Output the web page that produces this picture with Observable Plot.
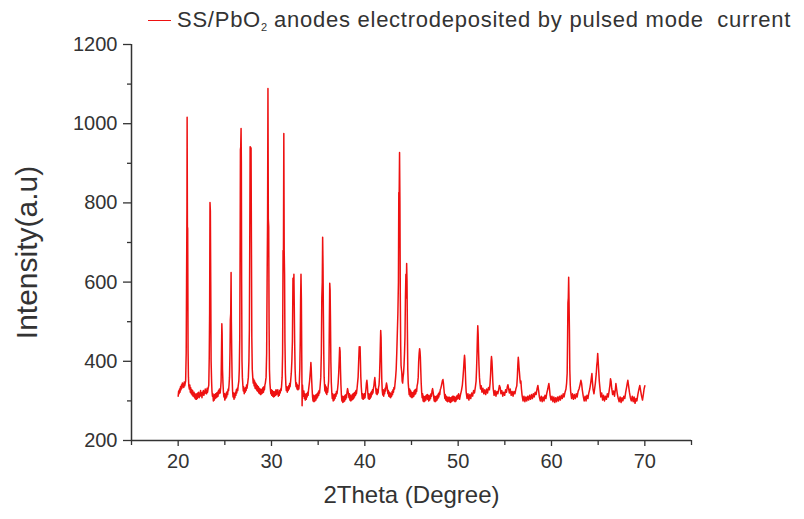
<!DOCTYPE html>
<html>
<head>
<meta charset="utf-8">
<script src="https://cdn.jsdelivr.net/npm/d3@7"></script>
<script src="https://cdn.jsdelivr.net/npm/@observablehq/plot@0.6"></script>
<style>
  html, body { margin: 0; padding: 0; background: #fff; }
  #wrap { position: relative; width: 804px; height: 519px; font-family: "Liberation Sans", Arial, sans-serif; }
  #legend { position: absolute; left: 148px; top: 5px; height: 30px; display: flex; align-items: center; color: #333; font-size: 22px; white-space: pre; }
  #legend .sw { display: inline-block; width: 23px; height: 0; border-top: 1.5px solid #ee1111; margin-right: 6px; }
  #legend .txt { letter-spacing: 0.75px; }
  #legend sub { font-size: 11px; vertical-align: -4px; letter-spacing: 0; }
</style>
</head>
<body>
<div id="wrap">
  <div id="chart"></div>
  <div id="legend"><span class="sw"></span><span class="txt">SS/PbO<sub>2</sub> anodes electrodeposited by pulsed mode  current</span></div>
</div>
<script>
// ---- Data: [2Theta (deg), Intensity (a.u.)] ----
const scan20to30 = [
  [20.00,312],[20.05,325],[20.10,318],[20.15,330],[20.20,322],[20.25,336],[20.30,328],[20.35,340],[20.40,332],[20.45,345],
  [20.50,336],[20.55,342],[20.60,334],[20.65,348],[20.70,338],[20.75,344],[20.80,350],
  [20.86,420],[20.90,600],[20.94,780],[20.96,1016],[20.99,740],[21.02,735],[21.06,430],[21.10,360],[21.14,338],
  [21.20,330],[21.25,340],[21.30,322],[21.35,333],[21.40,318],[21.45,328],[21.50,315],[21.55,326],[21.60,312],[21.70,322],
  [21.75,308],[21.80,318],[21.85,305],[21.90,316],[21.95,304],[22.00,318],[22.05,306],[22.10,320],[22.15,310],[22.20,322],
  [22.25,308],[22.30,318],[22.35,312],[22.40,326],[22.45,314],[22.50,320],[22.55,308],[22.60,322],[22.65,316],[22.70,326],
  [22.75,314],[22.80,324],[22.85,318],[22.90,330],[22.95,320],[23.00,326],[23.05,318],[23.10,332],[23.15,322],[23.20,330],
  [23.28,340],[23.33,410],[23.37,520],[23.41,801],[23.45,780],[23.49,600],[23.53,400],[23.58,350],
  [23.62,325],[23.67,312],[23.72,318],[23.77,300],[23.82,314],[23.87,302],[23.92,316],[23.97,306],[24.02,318],[24.07,308],
  [24.12,320],[24.17,310],[24.22,322],[24.27,312],[24.32,326],[24.37,318],[24.42,330],[24.50,320],[24.55,332],
  [24.60,350],[24.64,420],[24.68,495],[24.71,470],[24.75,380],[24.80,345],
  [24.85,322],[24.90,310],[24.95,318],[25.00,302],[25.05,316],[25.10,306],[25.15,320],[25.20,310],[25.25,324],[25.30,316],
  [25.35,330],[25.40,326],[25.45,340],
  [25.50,360],[25.55,420],[25.59,505],[25.63,520],[25.67,624],[25.70,500],[25.74,420],[25.78,360],
  [25.83,325],[25.88,310],[25.93,320],[25.98,304],[26.03,318],[26.08,308],[26.13,322],[26.18,314],[26.23,328],[26.28,320],
  [26.33,332],[26.38,326],[26.43,338],[26.50,350],
  [26.55,380],[26.60,460],[26.64,700],[26.67,935],[26.70,940],[26.74,988],[26.77,900],[26.80,600],[26.84,400],[26.88,360],
  [26.93,340],[26.98,325],[27.03,335],[27.08,318],[27.13,330],[27.18,322],[27.23,334],[27.28,326],[27.33,340],[27.38,332],
  [27.45,345],[27.52,360],
  [27.58,400],[27.63,480],[27.67,700],[27.71,942],[27.76,940],[27.81,938],[27.85,700],[27.89,460],[27.94,380],
  [27.99,360],[28.04,345],[28.09,355],[28.14,338],[28.19,350],[28.24,332],[28.29,345],[28.34,330],[28.39,342],[28.44,326],
  [28.49,338],[28.54,324],[28.59,336],[28.64,320],[28.69,332],[28.74,318],[28.79,330],[28.84,316],[28.89,328],[28.94,318],
  [28.99,330],[29.04,320],[29.09,334],[29.14,322],[29.19,336],[29.24,328],[29.29,340],[29.34,345],
  [29.42,360],[29.48,420],[29.53,600],[29.58,760],[29.62,1089],[29.66,760],[29.70,740],[29.74,500],[29.78,380],[29.83,345],
  [29.88,330],[29.93,318]
];
const scan30to40 = [
  [29.98,328],[30.03,314],[30.08,326],[30.13,312],[30.18,324],[30.23,310],[30.28,322],[30.33,312],[30.38,324],[30.43,314],
  [30.48,328],[30.53,316],[30.58,326],[30.63,318],[30.68,328],[30.73,312],[30.78,322],[30.83,314],[30.88,326],[30.93,320],
  [30.98,330],[31.03,326],[31.08,338],
  [31.14,360],[31.19,420],[31.24,680],[31.28,670],[31.32,975],[31.36,680],[31.40,620],[31.44,450],[31.49,370],[31.54,340],
  [31.59,326],[31.64,336],[31.69,322],[31.74,334],[31.79,326],[31.84,338],[31.89,330],[31.94,344],[31.99,336],[32.05,350],[32.12,370],
  [32.18,400],[32.24,450],[32.30,610],[32.35,560],[32.40,620],[32.44,540],[32.48,450],[32.53,380],[32.58,350],
  [32.63,336],[32.68,345],[32.73,330],[32.78,340],[32.83,328],[32.88,338],[32.93,330],[32.98,345],
  [33.03,380],[33.08,450],[33.12,560],[33.16,620],[33.20,560],[33.24,420],[33.28,288],[33.32,340],[33.37,320],
  [33.42,312],[33.47,325],[33.52,306],[33.57,318],[33.62,302],[33.67,316],[33.72,304],[33.77,318],[33.82,310],[33.87,322],
  [33.92,314],[33.97,328],[34.03,340],
  [34.08,350],[34.13,365],[34.18,380],[34.22,397],[34.26,380],[34.30,355],[34.35,330],
  [34.40,310],[34.45,300],[34.50,314],[34.55,298],[34.60,312],[34.65,300],[34.70,314],[34.75,302],[34.80,316],[34.85,306],
  [34.90,318],[34.95,310],[35.00,322],[35.05,314],[35.10,326],[35.15,320],[35.22,340],
  [35.28,360],[35.34,420],[35.39,560],[35.44,600],[35.48,713],[35.52,640],[35.56,520],[35.60,420],[35.64,360],
  [35.68,340],[35.72,325],[35.77,340],[35.82,320],[35.87,335],[35.92,316],[35.97,330],[36.02,322],[36.07,336],[36.12,350],
  [36.16,400],[36.20,500],[36.24,597],[36.28,580],[36.32,500],[36.36,400],[36.41,345],
  [36.46,322],[36.51,306],[36.56,318],[36.61,300],[36.66,314],[36.71,302],[36.76,316],[36.81,306],[36.86,318],[36.91,312],
  [36.96,324],[37.02,318],[37.08,330],[37.14,345],
  [37.20,370],[37.25,400],[37.30,435],[37.35,425],[37.39,380],[37.44,340],
  [37.49,315],[37.54,300],[37.59,312],[37.64,296],[37.69,310],[37.74,298],[37.79,312],[37.84,300],[37.89,314],[37.94,304],
  [37.99,316],[38.04,308],[38.09,322],[38.15,331],[38.20,325],[38.25,318],[38.30,308],[38.35,318],[38.40,302],[38.45,314],
  [38.50,300],[38.55,312],[38.60,302],[38.65,316],[38.70,304],[38.75,318],[38.80,306],[38.85,320],[38.90,310],[38.95,322],
  [39.00,314],[39.05,326],[39.10,318],[39.16,330],[39.22,345],
  [39.28,360],[39.34,400],[39.40,437],[39.44,420],[39.49,437],[39.53,400],[39.57,360],[39.62,335],
  [39.67,318],[39.72,306],[39.77,318],[39.82,304],[39.87,316],[39.92,306]
];
const scan40to50 = [
  [39.97,318],[40.02,308],[40.07,320],[40.12,330],[40.17,345],[40.22,352],[40.27,340],[40.32,320],[40.37,306],[40.42,318],
  [40.47,304],[40.52,316],[40.57,306],[40.62,320],[40.67,310],[40.72,324],[40.77,316],[40.82,328],[40.87,320],[40.92,332],
  [40.97,338],[41.02,350],[41.07,359],[41.12,345],[41.17,330],[41.22,318],[41.27,330],[41.32,316],[41.37,328],[41.42,320],
  [41.47,334],[41.52,340],[41.57,360],
  [41.62,400],[41.66,440],[41.70,478],[41.74,460],[41.78,400],[41.82,350],
  [41.87,325],[41.92,315],[41.97,328],[42.02,312],[42.07,326],[42.12,318],[42.17,332],[42.22,325],[42.27,338],[42.32,345],
  [42.37,339],[42.42,330],[42.47,318],[42.52,326],[42.57,312],[42.62,322],[42.67,310],[42.72,320],[42.77,308],[42.82,318],
  [42.87,312],[42.92,324],[42.97,316],[43.02,328],[43.07,322],[43.12,334],[43.18,330],[43.24,345],[43.30,360],
  [43.36,380],[43.42,420],[43.48,470],[43.54,520],[43.60,600],[43.64,826],[43.68,820],[43.72,927],[43.76,800],[43.80,560],
  [43.84,440],[43.88,390],[43.92,380],[43.96,372],[44.00,350],[44.05,345],[44.10,360],[44.15,370],[44.20,390],[44.25,420],[44.30,460],
  [44.35,560],[44.40,620],[44.44,560],[44.48,647],[44.52,600],[44.56,480],[44.60,380],[44.65,345],
  [44.70,330],[44.75,316],[44.80,330],[44.85,312],[44.90,326],[44.95,310],[45.00,322],[45.05,308],[45.10,320],[45.15,310],
  [45.20,322],[45.25,312],[45.30,326],[45.35,316],[45.40,328],[45.45,318],[45.50,330],[45.55,324],[45.60,338],[45.66,345],[45.72,360],
  [45.77,400],[45.82,420],[45.87,432],[45.91,425],[45.95,410],[45.99,380],[46.04,345],
  [46.09,322],[46.14,308],[46.19,318],[46.24,300],[46.29,312],[46.34,298],[46.39,310],[46.44,300],[46.49,312],[46.54,302],
  [46.59,314],[46.64,306],[46.69,316],[46.74,304],[46.79,314],[46.84,300],[46.89,312],[46.94,302],[46.99,314],[47.04,306],
  [47.09,318],[47.14,312],[47.20,325],[47.26,331],[47.32,322],[47.38,310],[47.43,300],[47.48,312],[47.53,298],[47.58,310],
  [47.63,300],[47.68,312],[47.73,302],[47.78,314],[47.83,306],[47.88,318],[47.93,310],[47.98,322],[48.03,316],[48.08,328],
  [48.14,332],[48.20,338],[48.26,345],[48.32,352],[48.37,354],[48.42,345],[48.47,332],[48.52,318],[48.57,306],[48.62,316],
  [48.67,302],[48.72,312],[48.77,300],[48.82,310],[48.87,298],[48.92,308],[48.97,300],[49.02,310],[49.07,298],[49.12,308],
  [49.17,296],[49.22,308],[49.27,298],[49.32,310],[49.37,300],[49.42,312],[49.47,302],[49.52,312],[49.57,300],[49.62,310],
  [49.67,298],[49.72,308],[49.77,300],[49.82,312],[49.87,304],[49.92,314],[49.97,306]
];
const scan50to60 = [
  [50.05,318],[50.15,304],[50.25,316],[50.35,326],[50.45,340],[50.52,360],
  [50.58,380],[50.63,400],[50.68,415],[50.72,405],[50.76,380],[50.81,345],
  [50.86,322],[50.95,306],[51.05,318],[51.15,302],[51.25,316],[51.35,306],[51.45,320],[51.55,312],[51.65,326],[51.75,320],
  [51.85,336],[51.92,350],
  [51.97,380],[52.02,420],[52.06,460],[52.10,490],[52.14,470],[52.18,430],[52.23,390],[52.28,360],
  [52.33,345],[52.40,330],[52.47,338],[52.55,322],[52.65,332],[52.75,318],[52.85,328],[52.95,316],[53.05,330],[53.15,320],
  [53.25,334],[53.35,328],[53.42,345],
  [53.48,370],[53.53,400],[53.57,412],[53.62,400],[53.66,380],[53.71,350],
  [53.76,330],[53.85,314],[53.95,326],[54.05,312],[54.15,324],[54.25,318],[54.35,330],[54.42,339],[54.50,334],[54.58,318],
  [54.68,326],[54.78,312],[54.88,322],[54.98,314],[55.08,328],[55.18,322],[55.26,335],[55.33,341],[55.40,332],[55.48,320],
  [55.58,330],[55.68,314],[55.78,324],[55.88,312],[55.98,324],[56.08,318],[56.18,330],[56.28,338],[56.34,360],
  [56.39,390],[56.44,410],[56.48,400],[56.52,385],[56.57,370],[56.62,355],[56.67,345],[56.72,350],[56.78,330],
  [56.85,314],[56.95,300],[57.05,312],[57.15,298],[57.25,310],[57.35,300],[57.45,312],[57.55,302],[57.65,314],[57.75,304],
  [57.85,316],[57.95,306],[58.05,318],[58.15,310],[58.25,322],[58.35,316],[58.45,330],[58.54,339],[58.62,326],[58.70,310],
  [58.80,300],[58.90,312],[59.00,298],[59.10,310],[59.20,300],[59.30,314],[59.40,306],[59.50,320],[59.60,330],[59.66,338],
  [59.72,344],[59.78,332],[59.85,314],[59.95,302]
];
const scan60to70 = [
  [60.05,312],[60.15,298],[60.25,310],[60.35,296],[60.45,308],[60.55,298],[60.65,310],[60.75,300],[60.85,312],[60.95,302],
  [61.05,314],[61.15,306],[61.25,318],[61.35,310],[61.45,322],[61.55,330],[61.62,345],[61.68,370],
  [61.72,450],[61.76,548],[61.80,560],[61.84,612],[61.88,548],[61.92,480],[61.96,380],[62.01,340],
  [62.06,322],[62.15,306],[62.25,318],[62.35,304],[62.45,316],[62.55,306],[62.65,318],[62.75,310],[62.85,324],[62.95,330],
  [63.05,340],[63.15,352],[63.22,345],[63.30,328],[63.40,312],[63.50,300],[63.60,312],[63.70,300],[63.80,314],[63.90,306],
  [64.00,320],[64.10,330],[64.20,345],[64.28,360],[64.33,369],[64.38,350],[64.45,330],[64.55,318],[64.62,330],[64.70,345],
  [64.80,370],[64.85,390],[64.90,400],[64.95,420],[65.00,400],[65.05,380],[65.12,350],[65.20,330],[65.28,310],[65.38,320],
  [65.48,302],[65.58,314],[65.68,300],[65.78,312],[65.88,304],[65.98,318],[66.08,310],[66.18,326],[66.26,340],[66.32,356],
  [66.38,350],[66.45,332],[66.55,316],[66.65,325],[66.75,312],[66.85,330],[66.90,344],[66.95,335],[67.05,318],[67.15,306],
  [67.25,298],[67.35,310],[67.45,296],[67.55,308],[67.65,300],[67.75,312],[67.85,306],[67.95,322],[68.05,335],[68.12,345],
  [68.18,352],[68.25,340],[68.35,322],[68.45,308],[68.55,300],[68.65,312],[68.75,298],[68.85,310],[68.95,294],[69.05,306],
  [69.15,300],[69.25,316],[69.35,328],[69.46,339],[69.55,326],[69.65,312],[69.75,302],[69.85,318],[69.92,330],[70.00,338]
];

const xMajorTicks = [20, 30, 40, 50, 60, 70];
const xMinorTicks = [15, 25, 35, 45, 55, 65, 75];
const yMajorTicks = [200, 400, 600, 800, 1000, 1200];
const yMinorTicks = [300, 500, 700, 900, 1100];
const xTitle = "2Theta (Degree)";
const yTitle = "Intensity(a.u)";

const pattern = [...scan20to30, ...scan30to40, ...scan40to50, ...scan50to60, ...scan60to70]
  .map(([t, v]) => ({t, v}));

const axisColor = "#333";
const plain = d => String(d);
const chart = Plot.plot({
  width: 804,
  height: 519,
  marginLeft: 131,
  marginRight: 113,
  marginTop: 44,
  marginBottom: 79,
  style: {fontFamily: '"Liberation Sans", Arial, sans-serif', color: "#333", background: "transparent", overflow: "visible"},
  x: {domain: [15, 75]},
  y: {domain: [200, 1200]},
  marks: [
    Plot.line(pattern, {x: "t", y: "v", stroke: "#ee1111", strokeWidth: 1.5}),
    Plot.axisX({ticks: xMajorTicks, tickFormat: plain, tickSize: 6, tickPadding: 7, fontSize: 20, label: null, stroke: axisColor, strokeWidth: 1.3}),
    Plot.axisX({ticks: xMinorTicks, tickSize: 5, text: null, label: null, stroke: axisColor, strokeWidth: 1.3}),
    Plot.axisY({ticks: yMajorTicks, tickFormat: plain, tickSize: 8, tickPadding: 6, fontSize: 20, label: null, stroke: axisColor, strokeWidth: 1.3}),
    Plot.axisY({ticks: yMinorTicks, tickSize: 4, text: null, label: null, stroke: axisColor, strokeWidth: 1.3}),
    Plot.ruleY([200], {stroke: axisColor, strokeWidth: 1.5}),
    Plot.ruleX([15], {stroke: axisColor, strokeWidth: 1.5}),
    Plot.text([xTitle], {frameAnchor: "bottom", dy: 62, fontSize: 24, fill: "#333"}),
    Plot.text([yTitle], {frameAnchor: "left", textAnchor: "middle", rotate: -90, dx: -104, dy: 10, fontSize: 30, fill: "#333"})
  ]
});
document.getElementById("chart").appendChild(chart);
</script>
</body>
</html>
